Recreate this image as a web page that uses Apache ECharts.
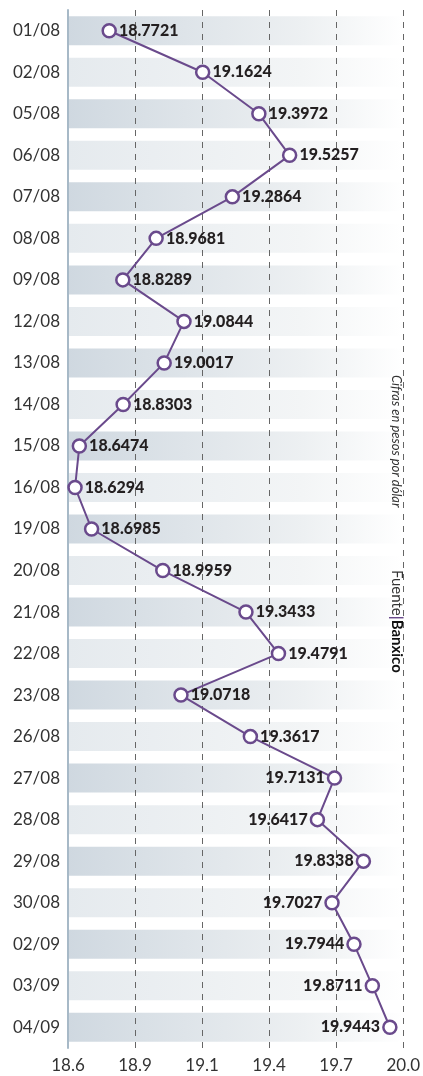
<!DOCTYPE html>
<html>
<head>
<meta charset="utf-8">
<script src="https://cdn.jsdelivr.net/npm/echarts@6/dist/echarts.min.js"></script>
<style>
  html, body { margin: 0; padding: 0; background: #fff; }
  #chart { width: 423px; height: 1076px; }
</style>
</head>
<body>
<div id="chart"></div>
<script>
// fechas (eje vertical)
const dates = ['01/08', '02/08', '05/08', '06/08', '07/08', '08/08', '09/08', '12/08', '13/08', '14/08',
  '15/08', '16/08', '19/08', '20/08', '21/08', '22/08', '23/08', '26/08', '27/08', '28/08',
  '29/08', '30/08', '02/09', '03/09', '04/09']
// tipo de cambio, pesos por dólar
const rates = [18.7721, 19.1624, 19.3972, 19.5257, 19.2864, 18.9681, 18.8289, 19.0844, 19.0017, 18.8303,
  18.6474, 18.6294, 18.6985, 18.9959, 19.3433, 19.4791, 19.0718, 19.3617, 19.7131, 19.6417,
  19.8338, 19.7027, 19.7944, 19.8711, 19.9443]
// etiquetas del eje horizontal
const tickLabels = ['18.6', '18.9', '19.1', '19.4', '19.7', '20.0']
const axisMin = 18.6
const axisMax = 20.0
const axisStep = 0.28

const purple = '#6a4a8c'
const textDark = '#231f20'

const chart = echarts.init(document.getElementById('chart'))

// franjas de fondo: una por fecha, alternando tono
const bandData = dates.map((d, i) => ({
  value: axisMax,
  itemStyle: {
    color: new echarts.graphic.LinearGradient(0, 0, 1, 0, [
      { offset: 0, color: i % 2 === 0 ? '#cfd8e0' : '#e5eaee' },
      { offset: 0.7, color: i % 2 === 0 ? '#edf0f2' : '#f3f5f6' },
      { offset: 1, color: '#ffffff' }
    ])
  }
}))

// a partir del 27/08 la etiqueta va a la izquierda del punto
const lineData = rates.map((v, i) => ({
  value: v,
  label: { position: i >= 18 ? 'left' : 'right' }
}))

const option = {
  animation: false,
  grid: { left: 68, right: 10, top: 10, bottom: 28, containLabel: false },
  xAxis: {
    type: 'value',
    min: axisMin,
    max: axisMax,
    interval: axisStep,
    z: 5,
    axisLine: { show: false },
    axisTick: { show: false },
    splitLine: { show: true, lineStyle: { color: '#666', type: [6, 6], width: 1 } },
    axisLabel: {
      color: '#333',
      fontFamily: 'Lato',
      fontSize: 17,
      margin: 9,
      formatter: v => tickLabels[Math.round((v - axisMin) / axisStep)] || ''
    }
  },
  yAxis: {
    type: 'category',
    data: dates,
    inverse: true,
    z: 5,
    axisLine: { show: true, lineStyle: { color: '#a7b9c7', width: 2 } },
    axisTick: { show: false },
    splitLine: { show: false },
    axisLabel: { color: '#333', fontFamily: 'Lato', fontSize: 17, margin: 8 }
  },
  series: [
    {
      type: 'bar',
      data: bandData,
      barWidth: 29,
      z: 1,
      silent: true,
      label: { show: false }
    },
    {
      type: 'line',
      data: lineData,
      z: 10,
      symbol: 'circle',
      symbolSize: 13,
      lineStyle: { color: purple, width: 2 },
      itemStyle: { color: '#fff', borderColor: purple, borderWidth: 2.5 },
      label: {
        show: true,
        color: textDark,
        fontFamily: 'Lato',
        fontWeight: 900,
        fontSize: 16,
        distance: 2,
        formatter: p => p.value.toFixed(4)
      }
    }
  ],
  graphic: [
    {
      type: 'text',
      z: 100,
      x: 403,
      y: 375,
      rotation: -Math.PI / 2,
      style: {
        text: 'Cifras en pesos por dólar',
        fontFamily: 'Lato',
        fontStyle: 'italic',
        fontSize: 13,
        fill: '#333'
      }
    },
    {
      type: 'text',
      z: 100,
      x: 404,
      y: 570,
      rotation: -Math.PI / 2,
      style: {
        text: '{a|Fuente}{b||}{c|Banxico}',
        rich: {
          a: { fontFamily: 'Lato', fontSize: 15, fill: '#333' },
          b: { fontFamily: 'Lato', fontSize: 15, fill: purple, fontWeight: 'bold' },
          c: { fontFamily: 'Lato', fontSize: 15, fill: '#111', fontWeight: 'bold' }
        }
      }
    }
  ]
}

chart.setOption(option)
</script>
</body>
</html>
